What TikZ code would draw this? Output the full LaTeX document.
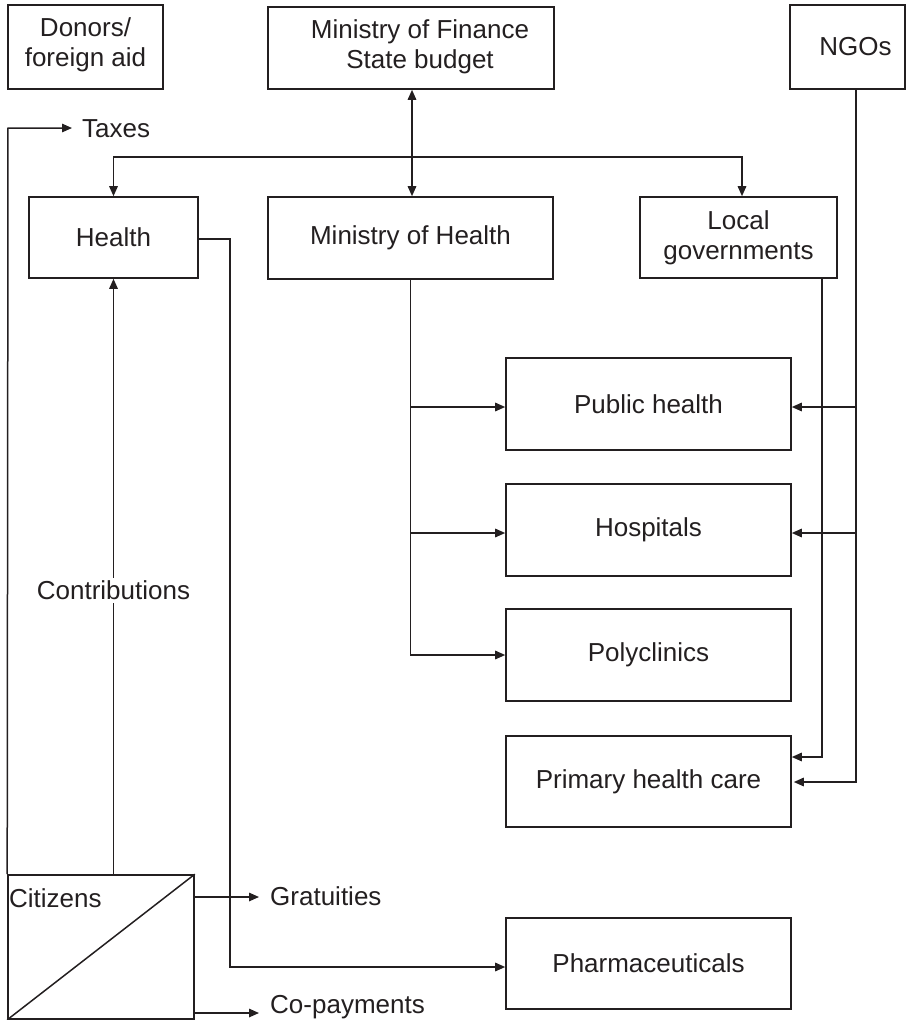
\documentclass[tikz,border=0pt]{standalone}
\usepackage{fontspec}
\setmainfont{Liberation Sans}
\usetikzlibrary{arrows.meta,calc}
\definecolor{ink}{RGB}{35,31,32}
\begin{document}
\begin{tikzpicture}[x=1pt,y=-1pt,
  every node/.style={font=\fontsize{26}{30}\selectfont, text=ink},
  box/.style={draw=ink, line width=1.6pt, rectangle, inner sep=0pt, align=center},
  conn/.style={draw=ink, line width=1.5pt},
  arr/.style={conn, -{Triangle[length=10pt,width=8.5pt]}},
  darr/.style={conn, {Triangle[length=10pt,width=8.5pt]}-{Triangle[length=10pt,width=8.5pt]}},
  lbl/.style={inner sep=0pt}]
\useasboundingbox (0,0) rectangle (906,1020);
% boxes
\node[box, minimum width=155, minimum height=84] (donors) at (85.5,47) {Donors/\\foreign aid\\[-20pt]\mbox{}};
\node[box, minimum width=286, minimum height=82] (finance) at (411,48) {\hspace*{18pt}Ministry of Finance\\\hspace*{18pt}State budget\\[-22pt]\mbox{}};
\node[box, minimum width=115, minimum height=84] (ngos) at (847.5,47) {\hspace*{16pt}NGOs};
\node[box, minimum width=169, minimum height=81] (health) at (113.5,237.5) {Health};
\node[box, minimum width=285, minimum height=82] (moh) at (410.5,238) {Ministry of Health};
\node[box, minimum width=197, minimum height=81] (local) at (738.5,237.5) {Local\\governments};
\node[box, minimum width=285, minimum height=92] (pubh) at (648.5,404) {Public health};
\node[box, minimum width=285, minimum height=92] (hosp) at (648.5,530) {Hospitals};
\node[box, minimum width=285, minimum height=92] (poly) at (648.5,655) {Polyclinics};
\node[box, minimum width=285, minimum height=91] (phc) at (648.5,781.5) {Primary health care};
\node[box, minimum width=285, minimum height=91] (pharma) at (648.5,963.5) {Pharmaceuticals};
\node[box, minimum width=186, minimum height=144] (citizens) at (101,947) {};
\draw[conn] (citizens.south west) -- (citizens.north east);
\node[lbl, anchor=base west] (cit) at (9,907) {Citizens};
% free labels
\node[lbl, anchor=base west] (taxes) at (82,137) {Taxes};
\node[lbl, anchor=base west] (grat) at (270,905) {Gratuities};
\node[lbl, anchor=base west] (copay) at (270,1013) {Co-payments};
\coordinate (taxtip) at (72,128);
\coordinate (grattip) at (259,897);
\coordinate (coptip) at (259,1013);
% taxes
\draw[arr] (citizens.north west) -- (8,128) -- (taxtip);
% finance <-> ministry of health
\draw[darr] (finance.south -| 412,0) -- (moh.north -| 412,0);
% bus
\coordinate (bus) at (412,157);
\draw[arr] (bus) -| (health.north);
\draw[arr] (bus) -| ([xshift=3.5pt]local.north);
% health -> pharmaceuticals
\draw[arr] ([yshift=-1.5pt]health.east) -- (230,239) |- ([yshift=-3.5pt]pharma.west);
% ministry of health trunk
\draw[arr] (moh.south) |- (poly.west);
\draw[arr] (moh.south |- 0,407) -- (pubh.west |- 0,407);
\draw[arr] (moh.south |- 0,533) -- (hosp.west |- 0,533);
% local governments -> phc
\draw[arr] (local.south -| 822,0) |- (phc.east |- 0,757);
% NGOs
\draw[arr] (ngos.south -| 856,0) |- ([xshift=2pt]phc.east |- 0,782);
\draw[arr] (856,407) -- (pubh.east |- 0,407);
\draw[arr] (856,533) -- (hosp.east |- 0,533);
% contributions
\draw[arr] (health.south |- citizens.north) -- (health.south)
  node[pos=0.477, fill=white, inner xsep=0pt, inner ysep=3pt] (contrib) {Contributions};
% gratuities, co-payments
\draw[arr] (citizens.east |- grattip) -- (grattip);
\draw[arr] (citizens.east |- coptip) -- (coptip);
\end{tikzpicture}
\end{document}
